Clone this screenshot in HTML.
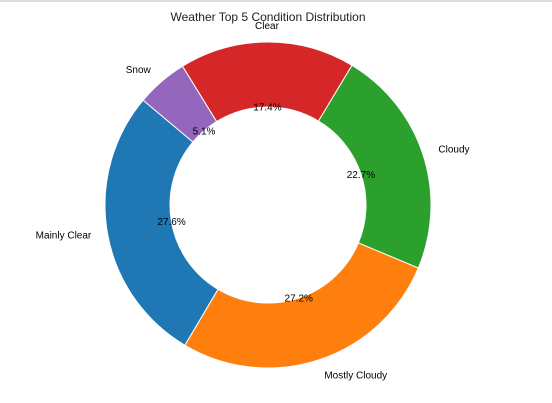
<!DOCTYPE html>
<html><head><meta charset="utf-8"><style>
html,body{margin:0;padding:0;background:#fff;}
svg{display:block;font-family:"Liberation Sans","DejaVu Sans",sans-serif;}
</style></head><body>
<svg id="chart" width="552" height="403" viewBox="0 0 552 403" xmlns="http://www.w3.org/2000/svg">
<rect x="0" y="0" width="552" height="403" fill="#fff"/>
<line x1="0" y1="1" x2="552" y2="1" stroke="#d0d0d0" stroke-width="1.5"/>
<text x="268" y="21" font-size="12" text-anchor="middle" fill="#222">Weather Top 5 Condition Distribution</text>
<g id="slices"></g>
</svg>
<script>
const categories = ["Mainly Clear","Mostly Cloudy","Cloudy","Clear","Snow"];
const values = [27.6, 27.2, 22.7, 17.4, 5.1];
const colors = ["#1f77b4","#ff7f0e","#2ca02c","#d62728","#9467bd"];
const startAngle = 140;
const cx = 268, cy = 205, R = 163, r = 98;
const NS = "http://www.w3.org/2000/svg";
const g = document.getElementById("slices");
const total = values.reduce((a,b)=>a+b,0);
function pt(rad, deg){ const a = deg*Math.PI/180; return [cx + rad*Math.cos(a), cy - rad*Math.sin(a)]; }
let a0 = startAngle;
const labelLayer = [];
values.forEach((v,i)=>{
  const sweep = v/total*360;
  const a1 = a0 + sweep;
  const large = sweep > 180 ? 1 : 0;
  const p1 = pt(R,a0), p2 = pt(R,a1), p3 = pt(r,a1), p4 = pt(r,a0);
  const d = `M${p1[0]},${p1[1]} A${R},${R} 0 ${large} 0 ${p2[0]},${p2[1]} L${p3[0]},${p3[1]} A${r},${r} 0 ${large} 1 ${p4[0]},${p4[1]} Z`;
  const path = document.createElementNS(NS,"path");
  path.setAttribute("d", d);
  path.setAttribute("fill", colors[i]);
  path.setAttribute("stroke", "#fff");
  path.setAttribute("stroke-width", "1");
  
  
  g.appendChild(path);
  const mid = (a0+a1)/2;
  const lp = pt(R*1.1, mid);
  const cos = Math.cos(mid*Math.PI/180);
  const lt = document.createElementNS(NS,"text");
  lt.setAttribute("x", lp[0]);
  lt.setAttribute("y", lp[1]+3.5);
  lt.setAttribute("font-size","10");
  lt.setAttribute("fill","#000");
  lt.setAttribute("text-anchor", cos > 0.01 ? "start" : (cos < -0.01 ? "end" : "middle"));
  lt.textContent = categories[i];
  
  
  labelLayer.push(lt);
  const pp = pt(R*0.6, mid);
  const pt2 = document.createElementNS(NS,"text");
  pt2.setAttribute("x", pp[0]);
  pt2.setAttribute("y", pp[1]+3.5);
  pt2.setAttribute("font-size","10");
  pt2.setAttribute("fill","#000");
  pt2.setAttribute("text-anchor","middle");
  pt2.textContent = v.toFixed(1) + "%";
  
  
  labelLayer.push(pt2);
  a0 = a1;
});
labelLayer.forEach(t=>g.appendChild(t));
</script>
</body></html>
